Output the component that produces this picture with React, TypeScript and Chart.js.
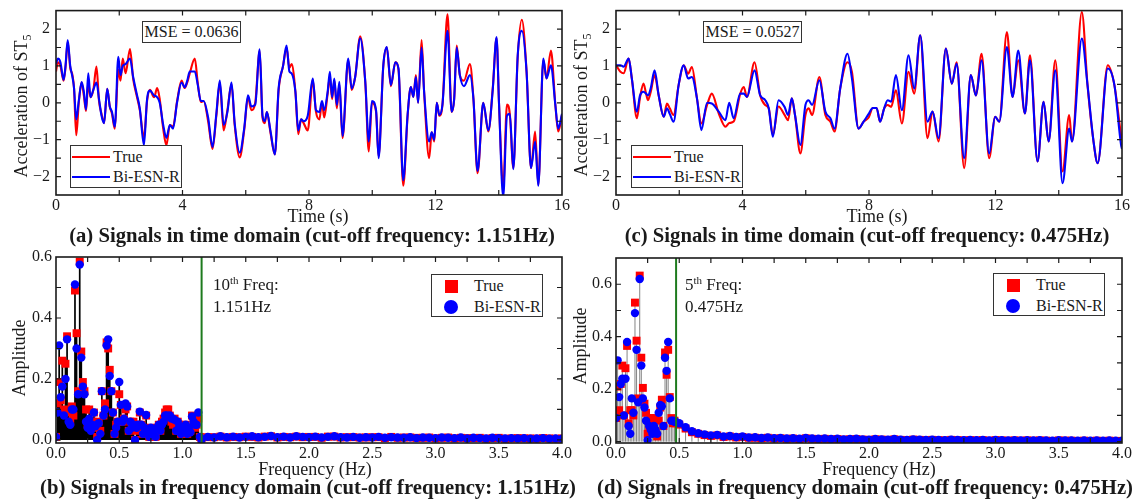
import React, { useEffect, useRef } from "react";
import { Chart, registerables } from "chart.js";

Chart.register(...registerables);

const FONT = "'Liberation Serif', 'Times New Roman', Times, serif";
const INK = "#1a1a1a";
const RED = "#ff0000";
const BLUE = "#0000ff";
const GREEN = "#1e7b1e";

// ---------------- Panel (a): time domain, cut-off 1.151 Hz ----------------
const timeA = [
  0.00, 0.06, 0.14, 0.24, 0.30, 0.37, 0.45, 0.52, 0.57, 0.64,
  0.72, 0.81, 0.88, 0.95, 1.02, 1.09, 1.18, 1.28, 1.36, 1.44,
  1.52, 1.62, 1.70, 1.77, 1.86, 1.97, 2.04, 2.11, 2.20, 2.34,
  2.44, 2.55, 2.65, 2.78, 2.88, 2.97, 3.10, 3.20, 3.28, 3.39,
  3.49, 3.60, 3.70, 3.83, 3.97, 4.07, 4.15, 4.23, 4.39, 4.48,
  4.58, 4.67, 4.81, 4.95, 5.07, 5.18, 5.30, 5.42, 5.55, 5.65,
  5.81, 5.95, 6.07, 6.18, 6.30, 6.44, 6.53, 6.60, 6.67, 6.78,
  6.92, 7.04, 7.18, 7.29, 7.38, 7.45, 7.57, 7.66, 7.75, 7.83,
  7.96, 8.12, 8.22, 8.33, 8.41, 8.48, 8.59, 8.66, 8.73, 8.80,
  8.88, 8.96, 9.06, 9.24, 9.35, 9.46, 9.62, 9.78, 9.89, 9.99,
  10.12, 10.20, 10.35, 10.46, 10.59, 10.73, 10.83, 10.98, 11.12, 11.22,
  11.30, 11.38, 11.45, 11.56, 11.64, 11.80, 11.88, 11.96, 12.04, 12.12,
  12.22, 12.38, 12.51, 12.59, 12.67, 12.77, 12.90, 13.09, 13.20, 13.33,
  13.51, 13.67, 13.81, 13.93, 14.01, 14.14, 14.26, 14.35, 14.46, 14.60,
  14.73, 14.88, 15.02, 15.15, 15.25, 15.41, 15.51, 15.65, 15.79, 15.88,
  16.00,
];
const trueA = [
  0.85, 1.10, 1.00, 0.60, 0.95, 1.65, 0.95, 0.75, 0.40, -0.88,
  0.00, 0.55, 0.20, -0.22, 0.55, 0.15, 0.35, 0.98, 0.05, -0.30,
  -0.55, 0.38, -0.10, -0.30, -0.70, 0.90, 0.60, 1.20, 0.80, 1.46,
  0.65, 0.20, -0.20, -0.95, 0.05, 0.35, 0.15, 0.40, 0.10, -0.70,
  -1.15, -0.60, -0.65, 0.05, 0.60, 0.40, 0.55, 0.80, 1.20, 0.55,
  0.02, 0.05, -0.50, -1.25, -0.35, 0.55, -0.75, -0.20, 0.50, -0.60,
  -1.48, -0.75, 0.15, -0.20, 0.00, 1.40, -0.40, -0.55, -0.25, -0.80,
  -1.40, 0.35, 1.00, 1.50, 0.95, 1.05, 0.30, -0.85, -0.45, -0.55,
  -0.75, 0.62, -0.24, -0.45, 0.03, -0.40, 0.25, 0.70, 0.10, 0.60,
  -0.15, 0.50, -0.96, 1.15, 0.35, 0.70, 1.80, 0.55, -1.32, 0.00,
  -0.24, -1.45, 1.00, 1.50, 0.45, 1.10, 0.90, -2.25, -0.33, 0.43,
  0.16, 0.75, 0.00, 1.70, 0.30, -1.50, -0.80, -1.05, 0.00, -0.35,
  -0.05, 2.40, -0.25, 0.10, 1.55, 0.75, 0.60, 1.05, 0.10, -1.91,
  0.00, -0.78, 0.39, 1.75, -0.05, -2.30, -0.05, -0.30, -1.77, 1.25,
  2.25, 0.84, -1.77, -0.78, -2.22, 1.15, 0.66, 1.42, -0.06, -0.78,
  -0.33,
];
const predA = [
  1.05, 1.20, 1.10, 0.62, 1.00, 1.70, 1.00, 0.70, 0.40, -0.45,
  0.05, 0.56, 0.30, -0.18, 0.80, 0.15, 0.35, 0.55, 0.10, -0.35,
  -0.55, 0.38, -0.10, -0.25, -0.65, 1.25, 0.75, 1.00, 1.05, 1.20,
  0.70, 0.25, -0.15, -1.15, 0.10, 0.33, 0.20, 0.15, 0.00, -0.60,
  -0.95, -0.60, -0.70, 0.02, 0.55, 0.42, 0.60, 0.85, 0.85, 0.50,
  0.05, 0.05, -0.40, -1.20, -0.30, 0.60, -0.60, -0.25, 0.55, -0.55,
  -1.35, -0.70, 0.20, -0.10, -0.05, 1.45, -0.35, -0.50, -0.25, -0.75,
  -1.40, 0.40, 1.00, 1.55, 0.85, 0.80, 0.30, -0.75, -0.45, -0.50,
  -0.35, 0.66, -0.20, -0.25, 0.05, -0.20, 0.30, 0.84, 0.15, 0.66,
  -0.06, 0.57, -0.90, 1.20, 0.39, 0.70, 1.75, 0.57, -1.05, 0.05,
  -0.20, -1.50, 1.02, 1.51, 0.48, 1.10, 0.93, -2.10, -0.30, 0.43,
  0.16, 0.70, 0.00, 1.50, 0.30, -1.05, -0.80, -1.00, 0.00, -0.33,
  -0.05, 1.95, -0.24, 0.10, 1.50, 0.75, 0.45, 0.75, 0.10, -1.85,
  0.00, -0.75, 0.35, 1.78, -0.06, -2.55, -0.35, -0.30, -1.80, 1.29,
  1.95, 0.84, -1.77, -1.05, -2.25, 1.20, 0.66, 1.02, -0.06, -0.70,
  -0.30,
];

// ---------------- Panel (c): time domain, cut-off 0.475 Hz ----------------
const timeC = [
  0.00, 0.14, 0.24, 0.40, 0.50, 0.66, 0.76, 0.87, 0.95, 1.01,
  1.10, 1.22, 1.35, 1.51, 1.61, 1.70, 1.82, 1.98, 2.14, 2.28,
  2.40, 2.56, 2.70, 2.88, 3.03, 3.25, 3.46, 3.58, 3.72, 3.93,
  4.04, 4.14, 4.38, 4.56, 4.72, 4.83, 4.96, 5.14, 5.33, 5.44,
  5.56, 5.66, 5.83, 5.99, 6.09, 6.20, 6.43, 6.62, 6.78, 6.91,
  7.09, 7.32, 7.46, 7.67, 7.83, 7.99, 8.12, 8.24, 8.35, 8.48,
  8.59, 8.70, 8.85, 9.04, 9.25, 9.43, 9.62, 9.85, 10.01, 10.20,
  10.43, 10.62, 10.77, 11.01, 11.22, 11.38, 11.56, 11.80, 11.99, 12.12,
  12.36, 12.54, 12.72, 12.93, 13.09, 13.33, 13.52, 13.68, 13.89, 14.12,
  14.33, 14.42, 14.73, 14.91, 15.10, 15.23, 15.55, 15.76, 15.97, 16.00,
];
const trueC = [
  1.02, 0.84, 0.80, 1.20, 0.66, -0.42, 0.15, 0.52, 0.25, 0.07,
  0.30, 0.75, 0.20, -0.38, -0.02, -0.15, -0.33, 0.48, 1.02, 0.79,
  0.97, 0.12, -0.56, -0.06, 0.25, -0.29, -0.65, -0.55, -0.51, 0.25,
  0.43, 0.16, 1.10, 0.20, -0.06, -0.15, -0.87, -0.10, -0.33, -0.47,
  0.12, -0.33, -1.37, -0.33, -0.15, -0.33, 0.70, -0.33, -0.51, -0.78,
  0.39, 1.10, 0.84, -0.70, -0.51, -0.40, -0.14, -0.14, -0.51, -0.15,
  -0.06, -0.11, 0.34, -0.56, 0.84, 0.25, 1.83, -0.96, -0.24, -1.05,
  1.47, 0.52, 1.10, -1.77, 0.75, 0.20, 1.33, -1.50, -0.38, -0.51,
  1.92, 0.16, 1.15, -0.29, 1.29, -1.59, 0.03, -1.05, 1.15, -1.86,
  -0.33, -1.05, 2.46, 0.48, -1.05, -1.64, 1.02, 0.48, -0.87, -1.00,
];
const predC = [
  1.02, 1.02, 0.98, 1.20, 0.66, -0.24, 0.20, 0.30, 0.25, 0.20,
  0.40, 0.88, 0.20, -0.38, -0.15, -0.30, -0.51, 0.48, 1.02, 0.66,
  0.70, 0.12, -0.74, 0.00, -0.02, -0.24, -0.47, 0.00, -0.42, 0.25,
  0.25, 0.16, 0.88, 0.20, 0.07, -0.15, -0.92, 0.07, -0.11, -0.33,
  0.12, -0.33, -1.14, -0.06, 0.07, -0.06, 0.61, -0.24, -0.42, -0.70,
  0.39, 1.33, 0.66, -0.70, -0.51, -0.30, -0.14, -0.14, -0.51, -0.15,
  0.07, 0.03, 0.75, -0.20, 1.29, 0.39, 1.83, -0.51, -0.24, -0.96,
  1.47, 0.52, 1.06, -1.50, 0.75, 0.20, 1.15, -1.37, -0.38, -0.51,
  1.51, 0.16, 1.42, -0.29, 1.15, -1.59, 0.03, -1.05, 0.88, -2.18,
  -0.70, -1.05, 1.74, 0.48, -1.05, -1.64, 0.93, 0.48, -1.14, -1.25,
];

// ---------------- Panel (b): spectrum, cut-off 1.151 Hz ----------------
const BIN_LOW = 0.0125; // frequency resolution of the low band (Hz)
const trueLowB = [
  0.01, 0.12, 0.19, 0.13, 0.26, 0.10, 0.25, 0.34, 0.09, 0.06,
  0.11, 0.08, 0.49, 0.35, 0.16, 0.585, 0.29, 0.19, 0.16, 0.10,
  0.05, 0.10, 0.04, 0.06, 0.09, 0.04, 0.01, 0.06, 0.03, 0.16,
  0.08, 0.12, 0.32, 0.30, 0.23, 0.16, 0.09, 0.02, 0.05, 0.06,
  0.15, 0.115, 0.06, 0.07, 0.10, 0.11, 0.03, 0.06, 0.04, 0.06,
  0.00, 0.03, 0.05, 0.09, 0.05, 0.02, 0.04, 0.08, 0.03, 0.01,
  0.04, 0.02, 0.03, 0.01, 0.04, 0.05, 0.03, 0.06, 0.07, 0.09,
  0.10, 0.10, 0.08, 0.06, 0.05, 0.07, 0.03, 0.06, 0.05, 0.02,
  0.04, 0.03, 0.05, 0.02, 0.04, 0.03, 0.08, 0.06, 0.04, 0.05,
  0.07, 0.01, 0.00,
];
const predLowB = [
  0.01, 0.09, 0.31, 0.14, 0.175, 0.08, 0.20, 0.33, 0.06, 0.05,
  0.10, 0.10, 0.51, 0.30, 0.15, 0.575, 0.27, 0.175, 0.15, 0.06,
  0.04, 0.07, 0.03, 0.05, 0.09, 0.045, 0.00, 0.055, 0.02, 0.16,
  0.08, 0.10, 0.31, 0.33, 0.21, 0.16, 0.09, 0.02, 0.04, 0.06,
  0.19, 0.115, 0.06, 0.07, 0.12, 0.11, 0.03, 0.06, 0.04, 0.05,
  0.00, 0.04, 0.05, 0.093, 0.05, 0.02, 0.04, 0.082, 0.03, 0.01,
  0.04, 0.02, 0.03, 0.01, 0.04, 0.05, 0.03, 0.05, 0.06, 0.08,
  0.08, 0.077, 0.08, 0.07, 0.07, 0.066, 0.03, 0.06, 0.045, 0.02,
  0.04, 0.03, 0.05, 0.02, 0.04, 0.025, 0.077, 0.06, 0.05, 0.05,
  0.09, 0.01, 0.00,
];
const TAIL_START_B = 1.2;
const TAIL_STEP = 0.05;
const trueTailB = [
  0.009, 0.009, 0.011, 0.008, 0.010, 0.009, 0.011, 0.010, 0.008, 0.011,
  0.012, 0.008, 0.010, 0.009, 0.011, 0.009, 0.010, 0.010, 0.007, 0.011,
  0.011, 0.008, 0.009, 0.009, 0.008, 0.008, 0.009, 0.009, 0.006, 0.010,
  0.007, 0.008, 0.008, 0.007, 0.007, 0.008, 0.005, 0.007, 0.008, 0.005,
  0.007, 0.006, 0.006, 0.007, 0.004, 0.006, 0.007, 0.004, 0.005, 0.006,
  0.005, 0.005, 0.004, 0.006, 0.005, 0.004, 0.005,
];
const predTailB = [
  0.010, 0.008, 0.012, 0.009, 0.011, 0.008, 0.010, 0.012, 0.009, 0.010,
  0.013, 0.009, 0.011, 0.008, 0.012, 0.010, 0.009, 0.011, 0.008, 0.010,
  0.012, 0.009, 0.008, 0.010, 0.007, 0.009, 0.008, 0.010, 0.007, 0.009,
  0.008, 0.007, 0.009, 0.006, 0.008, 0.007, 0.006, 0.008, 0.007, 0.006,
  0.008, 0.005, 0.007, 0.006, 0.005, 0.007, 0.006, 0.005, 0.006, 0.005,
  0.006, 0.004, 0.005, 0.006, 0.004, 0.005, 0.004,
];

// ---------------- Panel (d): spectrum, cut-off 0.475 Hz ----------------
const trueLowD = [
  0.09, 0.21, 0.12, 0.22, 0.29, 0.10, 0.28, 0.365, 0.07, 0.12,
  0.12, 0.10, 0.53, 0.385, 0.165, 0.633, 0.32, 0.205, 0.145, 0.11,
  0.03, 0.06, 0.09, 0.05, 0.09, 0.04, 0.02, 0.08, 0.13, 0.16,
  0.06, 0.34, 0.255, 0.35, 0.17, 0.09, 0.07, 0.08, 0.07,
];
const predLowD = [
  0.09, 0.31, 0.17, 0.22, 0.24, 0.10, 0.24, 0.38, 0.06, 0.03,
  0.165, 0.11, 0.49, 0.35, 0.15, 0.62, 0.29, 0.165, 0.13, 0.08,
  0.006, 0.06, 0.045, 0.03, 0.06, 0.045, 0.03, 0.11, 0.14, 0.135,
  0.06, 0.32, 0.27, 0.38, 0.165, 0.08, 0.08, 0.076, 0.075,
];
const TAIL_START_D = 0.5;
const trueTailD = [
  0.065, 0.050, 0.036, 0.030, 0.025, 0.022, 0.024, 0.018, 0.020, 0.016,
  0.018, 0.015, 0.015, 0.013, 0.015, 0.012, 0.013, 0.011, 0.012, 0.010,
  0.013, 0.011, 0.010, 0.011, 0.009, 0.010, 0.008, 0.009, 0.010, 0.008,
  0.007, 0.009, 0.008, 0.007, 0.009, 0.007, 0.006, 0.008, 0.007, 0.006,
  0.007, 0.006, 0.005, 0.007, 0.006, 0.005, 0.006, 0.005, 0.006, 0.004,
  0.006, 0.005, 0.004, 0.005, 0.004, 0.005, 0.004, 0.005, 0.004, 0.003,
  0.005, 0.004, 0.004, 0.003, 0.004, 0.003, 0.004, 0.003, 0.004, 0.003,
  0.003,
];
const predTailD = [
  0.070, 0.055, 0.040, 0.032, 0.028, 0.024, 0.026, 0.020, 0.022, 0.018,
  0.020, 0.016, 0.017, 0.014, 0.016, 0.013, 0.014, 0.012, 0.013, 0.011,
  0.014, 0.012, 0.011, 0.012, 0.010, 0.011, 0.009, 0.010, 0.011, 0.009,
  0.008, 0.010, 0.009, 0.008, 0.010, 0.008, 0.007, 0.009, 0.008, 0.007,
  0.008, 0.007, 0.006, 0.008, 0.007, 0.006, 0.007, 0.006, 0.007, 0.005,
  0.007, 0.006, 0.005, 0.006, 0.005, 0.006, 0.005, 0.006, 0.005, 0.004,
  0.006, 0.005, 0.005, 0.004, 0.005, 0.004, 0.005, 0.004, 0.005, 0.004,
  0.004,
];

const CUTOFF_B = 1.151;
const CUTOFF_D = 0.475;

// ---------------- layout helpers ----------------
const PAD_L = 56; // y-axis band width
const PAD_T = 14;
const PAD_R = 24;
const X_H = 30; // x-axis band height
const X_TICK_PAD = 1;

const isMult = (v: number, s: number) => Math.abs(v / s - Math.round(v / s)) < 1e-6;
const signed = (v: number) => (v < 0 ? "\u2212" + String(Math.abs(v)) : String(v));

const framePlugin = {
  id: "frame",
  afterDraw(chart: any, _args: any, opts: any) {
    const { ctx, chartArea: a, scales } = chart;
    const xs = scales.x;
    const ys = scales.y;
    ctx.save();
    if (opts && typeof opts.cutoff === "number") {
      const gx = xs.getPixelForValue(opts.cutoff);
      ctx.strokeStyle = GREEN;
      ctx.lineWidth = 2;
      ctx.beginPath();
      ctx.moveTo(gx, a.top);
      ctx.lineTo(gx, a.bottom);
      ctx.stroke();
    }
    ctx.strokeStyle = INK;
    ctx.lineWidth = 1.2;
    const L = 5;
    ctx.beginPath();
    for (const t of xs.ticks) {
      const px = xs.getPixelForValue(t.value);
      if (px <= a.left + 1 || px >= a.right - 1) continue;
      ctx.moveTo(px, a.bottom);
      ctx.lineTo(px, a.bottom - L);
      ctx.moveTo(px, a.top);
      ctx.lineTo(px, a.top + L);
    }
    for (const t of ys.ticks) {
      const py = ys.getPixelForValue(t.value);
      if (py <= a.top + 1 || py >= a.bottom - 1) continue;
      ctx.moveTo(a.left, py);
      ctx.lineTo(a.left + L, py);
      ctx.moveTo(a.right, py);
      ctx.lineTo(a.right - L, py);
    }
    ctx.stroke();
    ctx.lineWidth = 1.6;
    ctx.strokeRect(a.left, a.top, a.right - a.left, a.bottom - a.top);
    ctx.restore();
  },
};

type AxisSpec = {
  min: number;
  max: number;
  step: number;
  labelStep: number;
  fmt: (v: number) => string;
  pad?: number;
};

function scalesCfg(x: AxisSpec, y: AxisSpec) {
  const tickFont = { family: FONT, size: 16 };
  return {
    x: {
      type: "linear",
      min: x.min,
      max: x.max,
      offset: false,
      afterFit: (s: any) => {
        s.height = X_H;
      },
      grid: { display: false, drawTicks: false },
      border: { display: false },
      ticks: {
        stepSize: x.step,
        autoSkip: false,
        maxRotation: 0,
        minRotation: 0,
        includeBounds: false,
        padding: X_TICK_PAD,
        color: INK,
        font: tickFont,
        callback: (v: any) => (isMult(Number(v), x.labelStep) ? x.fmt(Number(v)) : ""),
      },
    },
    y: {
      type: "linear",
      min: y.min,
      max: y.max,
      afterFit: (s: any) => {
        s.width = PAD_L;
      },
      grid: { display: false, drawTicks: false },
      border: { display: false },
      ticks: {
        stepSize: y.step,
        autoSkip: false,
        includeBounds: false,
        padding: y.pad ?? 5,
        color: INK,
        font: tickFont,
        callback: (v: any) => (isMult(Number(v), y.labelStep) ? y.fmt(Number(v)) : ""),
      },
    },
  };
}

const baseOptions = (cutoff?: number) => ({
  animation: false,
  responsive: false,
  maintainAspectRatio: false,
  events: [],
  layout: { padding: { left: 0, top: PAD_T, right: PAD_R, bottom: 0 } },
  plugins: {
    legend: { display: false },
    tooltip: { enabled: false },
    title: { display: false },
    frame: { cutoff },
  },
});

function timeConfig(times: number[], trueV: number[], predV: number[]) {
  return {
    type: "line",
    data: {
      datasets: [
        {
          label: "Bi-ESN-R",
          data: times.map((t, i) => ({ x: t, y: predV[i] })),
          borderColor: BLUE,
          borderWidth: 2.1,
          pointRadius: 0,
          cubicInterpolationMode: "monotone",
          order: 0,
        },
        {
          label: "True",
          data: times.map((t, i) => ({ x: t, y: trueV[i] })),
          borderColor: RED,
          borderWidth: 2.1,
          pointRadius: 0,
          cubicInterpolationMode: "monotone",
          order: 1,
        },
      ],
    },
    options: {
      ...baseOptions(),
      scales: scalesCfg(
        { min: 0, max: 16, step: 2, labelStep: 4, fmt: (v) => String(v) },
        { min: -2.5, max: 2.5, step: 0.5, labelStep: 1, fmt: signed, pad: 6 }
      ),
    },
    plugins: [framePlugin],
  };
}

function freqConfig(
  trueLow: number[],
  predLow: number[],
  tailStart: number,
  trueTail: number[],
  predTail: number[],
  stemColor: string,
  stemWidth: number,
  yMin: number,
  yMax: number,
  cutoff: number
) {
  const freqs = [
    ...trueLow.map((_, i) => i * BIN_LOW),
    ...trueTail.map((_, i) => tailStart + i * TAIL_STEP),
  ];
  const tv = [...trueLow, ...trueTail];
  const pv = [...predLow, ...predTail];
  const stems: any[] = [];
  freqs.forEach((f, i) => {
    stems.push({ x: f, y: 0 }, { x: f, y: Math.max(tv[i], pv[i]) }, { x: f, y: null });
  });
  return {
    type: "scatter",
    data: {
      datasets: [
        {
          label: "Bi-ESN-R",
          data: freqs.map((f, i) => ({ x: f, y: pv[i] })),
          pointStyle: "circle",
          pointRadius: 4.2,
          pointBackgroundColor: BLUE,
          pointBorderWidth: 0,
          showLine: false,
          order: 0,
        },
        {
          label: "True",
          data: freqs.map((f, i) => ({ x: f, y: tv[i] })),
          pointStyle: "rect",
          pointRadius: 5.6,
          pointBackgroundColor: RED,
          pointBorderWidth: 0,
          showLine: false,
          order: 1,
        },
        {
          label: "stems",
          data: stems,
          showLine: true,
          spanGaps: false,
          borderColor: stemColor,
          borderWidth: stemWidth,
          pointRadius: 0,
          order: 2,
        },
      ],
    },
    options: {
      ...baseOptions(cutoff),
      scales: scalesCfg(
        { min: 0, max: 4, step: 0.25, labelStep: 0.5, fmt: (v) => v.toFixed(1) },
        { min: yMin, max: yMax, step: 0.1, labelStep: 0.2, fmt: (v) => v.toFixed(1), pad: 4 }
      ),
    },
    plugins: [framePlugin],
  };
}

function ChartCanvas(props: { L: number; T: number; R: number; B: number; make: () => any }) {
  const { L, T, R, B, make } = props;
  const ref = useRef<HTMLCanvasElement | null>(null);
  const w = R - L + PAD_L + PAD_R;
  const h = B - T + PAD_T + X_H;
  useEffect(() => {
    if (!ref.current) return;
    const chart = new Chart(ref.current, make());
    return () => chart.destroy();
  }, []);
  return (
    <div style={{ position: "absolute", left: L - PAD_L, top: T - PAD_T, width: w, height: h }}>
      <canvas ref={ref} width={w} height={h} style={{ display: "block", width: w, height: h }} />
    </div>
  );
}

function Txt(props: {
  x: number;
  y: number;
  size?: number;
  bold?: boolean;
  start?: boolean;
  rotate?: boolean;
  children: React.ReactNode;
}) {
  const { x, y, size = 16, bold = false, start = false, rotate = false, children } = props;
  const tr = `translate(${start ? "0" : "-50%"}, -50%)${rotate ? " rotate(-90deg)" : ""}`;
  return (
    <div
      style={{
        position: "absolute",
        left: x,
        top: y,
        transform: tr,
        whiteSpace: "nowrap",
        fontSize: size,
        fontWeight: bold ? "bold" : "normal",
        lineHeight: 1,
        color: INK,
      }}
    >
      {children}
    </div>
  );
}

const Box = (p: { x: number; y: number; w: number; h: number; children?: React.ReactNode }) => (
  <div
    style={{
      position: "absolute",
      left: p.x,
      top: p.y,
      width: p.w,
      height: p.h,
      boxSizing: "border-box",
      border: `1.5px solid #333`,
      background: "#fff",
      display: "flex",
      alignItems: "center",
      justifyContent: "center",
      fontSize: 16,
      lineHeight: 1,
      color: INK,
      whiteSpace: "nowrap",
    }}
  >
    {p.children}
  </div>
);

const Seg = (p: { x1: number; x2: number; y: number; color: string }) => (
  <div style={{ position: "absolute", left: p.x1, top: p.y - 1.25, width: p.x2 - p.x1, height: 2.5, background: p.color }} />
);

const Sq = (p: { cx: number; cy: number; s: number }) => (
  <div style={{ position: "absolute", left: p.cx - p.s / 2, top: p.cy - p.s / 2, width: p.s, height: p.s, background: RED }} />
);
const Dot = (p: { cx: number; cy: number; d: number }) => (
  <div
    style={{ position: "absolute", left: p.cx - p.d / 2, top: p.cy - p.d / 2, width: p.d, height: p.d, borderRadius: "50%", background: BLUE }}
  />
);

const Sub5 = () => <span style={{ fontSize: 12, position: "relative", top: 4 }}>5</span>;
const Sup = (p: { t: string }) => <span style={{ fontSize: 11, position: "relative", top: -6 }}>{p.t}</span>;

const LineLegend = (p: { x: number; y: number }) => (
  <>
    <Box x={p.x} y={p.y} w={112} h={43} />
    <Seg x1={p.x + 2} x2={p.x + 40} y={p.y + 12} color={RED} />
    <Txt x={p.x + 43} y={p.y + 12} start>True</Txt>
    <Seg x1={p.x + 2} x2={p.x + 40} y={p.y + 32} color={BLUE} />
    <Txt x={p.x + 43} y={p.y + 32} start>Bi-ESN-R</Txt>
  </>
);

const MarkLegend = (p: { x: number; y: number }) => (
  <>
    <Box x={p.x} y={p.y} w={112} h={43} />
    <Sq cx={p.x + 20} cy={p.y + 12} s={13} />
    <Txt x={p.x + 43} y={p.y + 12} start>True</Txt>
    <Dot cx={p.x + 20} cy={p.y + 33} d={14} />
    <Txt x={p.x + 43} y={p.y + 33} start>Bi-ESN-R</Txt>
  </>
);

export default function App() {
  return (
    <div
      style={{
        position: "absolute",
        left: 0,
        top: 0,
        width: 1141,
        height: 502,
        background: "#fff",
        overflow: "hidden",
        fontFamily: FONT,
        color: INK,
      }}
    >
      <ChartCanvas L={56} T={9} R={562} B={195} make={() => timeConfig(timeA, trueA, predA)} />
      <ChartCanvas L={616} T={9} R={1122} B={195} make={() => timeConfig(timeC, trueC, predC)} />
      <ChartCanvas
        L={56}
        T={257}
        R={562}
        B={443}
        make={() => freqConfig(trueLowB, predLowB, TAIL_START_B, trueTailB, predTailB, "#000000", 1.7, -0.01, 0.6, CUTOFF_B)}
      />
      <ChartCanvas
        L={616}
        T={258}
        R={1122}
        B={443}
        make={() => freqConfig(trueLowD, predLowD, TAIL_START_D, trueTailD, predTailD, "#858585", 1, -0.005, 0.7, CUTOFF_D)}
      />

      {/* axis titles */}
      <Txt x={21} y={106} size={18} rotate>
        Acceleration of ST<Sub5 />
      </Txt>
      <Txt x={581} y={105} size={18} rotate>
        Acceleration of ST<Sub5 />
      </Txt>
      <Txt x={318} y={216} size={18}>Time (s)</Txt>
      <Txt x={877} y={216} size={18}>Time (s)</Txt>
      <Txt x={19} y={358} size={18} rotate>Amplitude</Txt>
      <Txt x={580} y={346} size={18} rotate>Amplitude</Txt>
      <Txt x={315} y={469} size={18}>Frequency (Hz)</Txt>
      <Txt x={879} y={469} size={18}>Frequency (Hz)</Txt>

      {/* captions */}
      <Txt x={312} y={235} size={20.7} bold>(a) Signals in time domain (cut-off frequency: 1.151Hz)</Txt>
      <Txt x={867} y={235} size={20.7} bold>(c) Signals in time domain (cut-off frequency: 0.475Hz)</Txt>
      <Txt x={308} y={487} size={20.7} bold>(b) Signals in frequency domain (cut-off frequency: 1.151Hz)</Txt>
      <Txt x={865} y={487} size={20.7} bold>(d) Signals in frequency domain (cut-off frequency: 0.475Hz)</Txt>

      {/* MSE boxes */}
      <Box x={142} y={21} w={99} h={22}>MSE = 0.0636</Box>
      <Box x={703} y={21} w={99} h={22}>MSE = 0.0527</Box>

      {/* legends */}
      <LineLegend x={70} y={145} />
      <LineLegend x={631} y={145} />
      <MarkLegend x={431} y={274} />
      <MarkLegend x={993} y={273} />

      {/* cut-off annotations */}
      <Txt x={213} y={284} size={17} start>
        10<Sup t="th" /> Freq:
      </Txt>
      <Txt x={213} y={306} size={17} start>1.151Hz</Txt>
      <Txt x={685} y={284} size={17} start>
        5<Sup t="th" /> Freq:
      </Txt>
      <Txt x={685} y={306} size={17} start>0.475Hz</Txt>
    </div>
  );
}
